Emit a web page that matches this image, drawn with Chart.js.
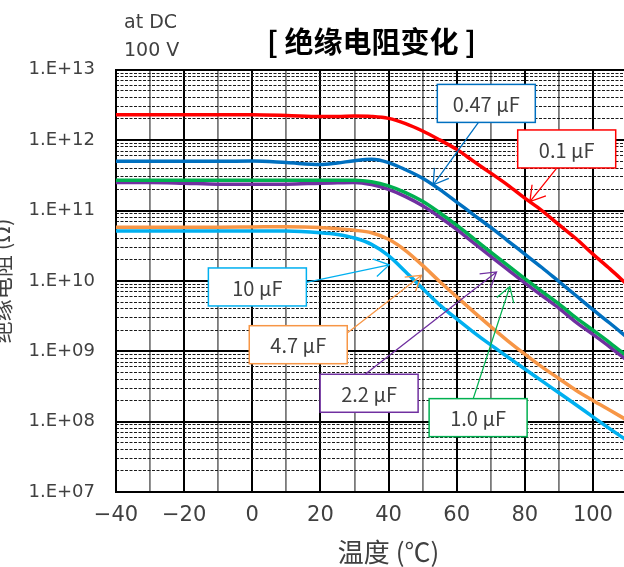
<!DOCTYPE html>
<html>
<head>
<meta charset="utf-8">
<script src="https://cdn.jsdelivr.net/npm/chart.js@4.4.1/dist/chart.umd.min.js"></script>
<style>
html, body { margin: 0; padding: 0; background: #fff; overflow: hidden; }
#wrap { position: relative; width: 640px; height: 567px; }
</style>
</head>
<body>
<div id="wrap"><canvas id="myChart"></canvas></div>
<script>
// temperature (degC)
var temps = [-40, -30, -20, -10, 0, 10, 20, 25, 30, 35, 40, 45, 50, 55, 60, 65, 70, 75, 80, 85, 90, 95, 100, 105, 110];

// insulation resistance (ohm)
var r01uF = [2.3e12, 2.3e12, 2.3e12, 2.3e12, 2.3e12, 2.25e12, 2.17e12, 2.17e12, 2.2e12, 2.17e12, 2.04e12, 1.72e12, 1.35e12, 1.01e12, 7.4e11, 5.0e11, 3.4e11, 2.3e11, 1.5e11, 1.0e11, 6.3e10, 4.0e10, 2.4e10, 1.48e10, 8.9e9];
var r047uF = [5.0e11, 5.0e11, 5.0e11, 5.0e11, 5.05e11, 4.8e11, 4.5e11, 4.75e11, 5.1e11, 5.35e11, 4.8e11, 3.8e11, 2.88e11, 2.0e11, 1.32e11, 8.7e10, 5.75e10, 3.72e10, 2.4e10, 1.55e10, 9.8e9, 6.2e9, 3.9e9, 2.5e9, 1.58e9];
var r10uF = [2.7e11, 2.7e11, 2.7e11, 2.7e11, 2.7e11, 2.7e11, 2.7e11, 2.7e11, 2.7e11, 2.57e11, 2.24e11, 1.8e11, 1.35e11, 9.3e10, 6.2e10, 4.0e10, 2.57e10, 1.66e10, 1.08e10, 7.1e9, 4.7e9, 3.0e9, 2.0e9, 1.32e9, 8.5e8];
var r22uF = [2.51e11, 2.51e11, 2.45e11, 2.37e11, 2.37e11, 2.37e11, 2.45e11, 2.48e11, 2.51e11, 2.34e11, 2.0e11, 1.58e11, 1.17e11, 8.1e10, 5.4e10, 3.47e10, 2.24e10, 1.45e10, 9.4e9, 6.2e9, 4.1e9, 2.6e9, 1.74e9, 1.15e9, 7.4e8];
var r47uF = [5.8e10, 5.8e10, 5.8e10, 5.8e10, 5.85e10, 5.9e10, 5.75e10, 5.5e10, 5.25e10, 4.84e10, 3.9e10, 2.7e10, 1.66e10, 9.8e9, 5.96e9, 3.63e9, 2.24e9, 1.41e9, 9.1e8, 6.0e8, 4.1e8, 2.8e8, 2.0e8, 1.45e8, 1.05e8];
var r100uF = [5.1e10, 5.1e10, 5.1e10, 5.1e10, 5.1e10, 5.1e10, 4.84e10, 4.57e10, 4.07e10, 3.31e10, 2.29e10, 1.35e10, 7.8e9, 4.57e9, 2.88e9, 1.86e9, 1.23e9, 8.3e8, 5.6e8, 3.8e8, 2.57e8, 1.74e8, 1.17e8, 7.9e7, 5.4e7];

var seriesNames = ['0.1 μF', '0.47 μF', '1.0 μF', '2.2 μF', '4.7 μF', '10 μF'];

// axes
var xMajorTicks = [-40, -20, 0, 20, 40, 60, 80, 100];
var xTickLabels = ['−40', '−20', '0', '20', '40', '60', '80', '100'];
var xMinorTicks = [-30, -10, 10, 30, 50, 70, 90, 110];
var yMajorTicks = [1e7, 1e8, 1e9, 1e10, 1e11, 1e12, 1e13];
var yTickLabels = ['1.E+07', '1.E+08', '1.E+09', '1.E+10', '1.E+11', '1.E+12', '1.E+13'];
var yMinorSteps = [2, 3, 4, 5, 6, 7, 8, 9];

// callout boxes: label, box centre and arrow tip in data units
var calloutText = ['0.47 μF', '0.1 μF', '10 μF', '4.7 μF', '2.2 μF', '1.0 μF'];
var calloutBoxT = [68.7, 92.3, 1.5, 13.5, 34.3, 66.3];
var calloutBoxR = [3.33e12, 7.5e11, 8.2e9, 1.24e9, 2.53e8, 1.14e8];
var calloutTipT = [53.1, 81.5, 40.2, 49.7, 71.7, 75.6];
var calloutTipR = [2.32e11, 1.34e11, 1.69e10, 1.2e10, 1.34e10, 8.3e9];

var colors = {
	'0.1 μF': '#FF0000',
	'0.47 μF': '#0070C0',
	'1.0 μF': '#00B050',
	'2.2 μF': '#7030A0',
	'4.7 μF': '#F79646',
	'10 μF': '#00B0F0'
};
// where the arrow leaves the box (fraction of width / height)
var calloutAnchor = [[0.42, 1], [0.40, 1], [1, 0.38], [1, 0.19], [0.46, 0], [0.45, 0]];

var latin = '"DejaVu Sans", "Noto Sans CJK SC", sans-serif';
var cjk = '"Noto Sans CJK SC", "DejaVu Sans", sans-serif';
var boxFont = '"Noto Sans CJK JP", "DejaVu Sans", sans-serif';
var textColor = '#404040';

function toPoints(values) {
	return temps.map(function(t, i) { return {x: t, y: values[i]}; });
}

var yMinorTicks = [];
for (var d = 0; d < yMajorTicks.length - 1; d++) {
	for (var m = 0; m < yMinorSteps.length; m++) {
		yMinorTicks.push(yMajorTicks[d] * yMinorSteps[m]);
	}
}

var allSeries = [r01uF, r047uF, r10uF, r22uF, r47uF, r100uF];
var datasets = allSeries.map(function(vals, i) {
	return {
		label: seriesNames[i],
		data: toPoints(vals),
		borderColor: colors[seriesNames[i]],
		backgroundColor: colors[seriesNames[i]],
		borderWidth: 3.5,
		pointRadius: 0,
		tension: 0.4,
		cubicInterpolationMode: 'monotone',
		fill: false,
		xAxisID: 'x',
		yAxisID: 'y'
	};
});

var textPlugin = {
	id: 'extraText',
	afterDraw: function(chart) {
		var ctx = chart.ctx, area = chart.chartArea, xs = chart.scales.x;
		ctx.save();
		ctx.fillStyle = textColor;
		ctx.font = '19px ' + latin;
		ctx.textAlign = 'left';
		ctx.textBaseline = 'alphabetic';
		ctx.fillText('at DC', area.left + 8, 28);
		ctx.fillText('100 V', area.left + 8, 56);
		ctx.font = '26px ' + cjk;
		ctx.textAlign = 'center';
		ctx.textBaseline = 'middle';
		ctx.fillText('温度 (℃)', xs.getPixelForValue(40), 552);
		ctx.restore();
	}
};

var calloutPlugin = {
	id: 'callouts',
	afterDatasetsDraw: function(chart) {
		var ctx = chart.ctx, xs = chart.scales.x, ys = chart.scales.y;
		var w = 98, h = 38;
		ctx.save();
		for (var i = 0; i < calloutText.length; i++) {
			var col = colors[calloutText[i]];
			var cx = xs.getPixelForValue(calloutBoxT[i]);
			var cy = ys.getPixelForValue(calloutBoxR[i]);
			var bx = cx - w / 2, by = cy - h / 2;
			var sx = bx + calloutAnchor[i][0] * w, sy = by + calloutAnchor[i][1] * h;
			var tx = xs.getPixelForValue(calloutTipT[i]);
			var ty = ys.getPixelForValue(calloutTipR[i]);
			ctx.strokeStyle = col;
			ctx.lineWidth = 1.3;
			ctx.beginPath();
			ctx.moveTo(sx, sy);
			ctx.lineTo(tx, ty);
			var ang = Math.atan2(sy - ty, sx - tx);
			var len = 17, spread = 0.55;
			ctx.moveTo(tx + len * Math.cos(ang - spread), ty + len * Math.sin(ang - spread));
			ctx.lineTo(tx, ty);
			ctx.lineTo(tx + len * Math.cos(ang + spread), ty + len * Math.sin(ang + spread));
			ctx.stroke();
			ctx.fillStyle = '#fff';
			ctx.fillRect(bx, by, w, h);
			ctx.lineWidth = 1.5;
			ctx.strokeRect(bx, by, w, h);
			ctx.fillStyle = textColor;
			ctx.font = '20px ' + boxFont;
			ctx.textAlign = 'center';
			ctx.textBaseline = 'middle';
			ctx.fillText(calloutText[i], cx, cy + 1);
		}
		ctx.restore();
	}
};

var chart = new Chart(document.getElementById('myChart').getContext('2d'), {
	type: 'line',
	data: {datasets: datasets},
	options: {
		responsive: true,
		maintainAspectRatio: false,
		animation: false,
		events: [],
		layout: {padding: {left: 0, right: 13, top: 0, bottom: 0}},
		plugins: {
			legend: {display: false},
			tooltip: {enabled: false},
			title: {
				display: true,
				text: '[ 绝缘电阻变化 ]',
				fullSize: false,
				color: '#000',
				font: {family: cjk, size: 29, weight: 'bold'},
				padding: {top: 25, bottom: 10}
			}
		},
		scales: {
			x: {
				type: 'linear',
				position: 'bottom',
				min: -40,
				max: 110,
				afterBuildTicks: function(s) { s.ticks = xMajorTicks.map(function(v) { return {value: v}; }); },
				afterFit: function(s) { s.height = 75; },
				ticks: {
					color: textColor,
					font: {family: latin, size: 21},
					padding: 11,
					maxRotation: 0,
					autoSkip: false,
					callback: function(v) { var i = xMajorTicks.indexOf(v); return i >= 0 ? xTickLabels[i] : ''; }
				},
				grid: {color: '#000', lineWidth: 2, drawTicks: false},
				border: {color: '#000', width: 2}
			},
			x2: {
				type: 'linear',
				position: 'bottom',
				min: -40,
				max: 110,
				afterBuildTicks: function(s) { s.ticks = xMinorTicks.map(function(v) { return {value: v}; }); },
				afterFit: function(s) { s.height = 0; },
				ticks: {display: false},
				grid: {color: '#7a7a7a', lineWidth: 1.8, drawTicks: false},
				border: {display: false}
			},
			y: {
				type: 'logarithmic',
				position: 'left',
				min: 1e7,
				max: 1e13,
				afterBuildTicks: function(s) { s.ticks = yMajorTicks.map(function(v) { return {value: v}; }); },
				afterFit: function(s) { s.width = 116; },
				ticks: {
					color: textColor,
					font: {family: latin, size: 18},
					padding: 21,
					autoSkip: false,
					callback: function(v) { var i = yMajorTicks.indexOf(v); return i >= 0 ? yTickLabels[i] : ''; }
				},
				grid: {color: '#000', lineWidth: 2, drawTicks: false},
				border: {color: '#000', width: 2},
				title: {
					display: true,
					text: '绝缘电阻 (Ω)',
					color: textColor,
					font: {family: cjk, size: 22},
					padding: {top: -12, bottom: 0}
				}
			},
			y2: {
				type: 'logarithmic',
				position: 'left',
				min: 1e7,
				max: 1e13,
				afterBuildTicks: function(s) { s.ticks = yMinorTicks.map(function(v) { return {value: v}; }); },
				afterFit: function(s) { s.width = 0; },
				ticks: {display: false},
				grid: {color: '#1a1a1a', lineWidth: 1, drawTicks: false},
				border: {display: false, dash: [3, 1.5]}
			}
		}
	},
	plugins: [textPlugin, calloutPlugin]
});
</script>
</body>
</html>
